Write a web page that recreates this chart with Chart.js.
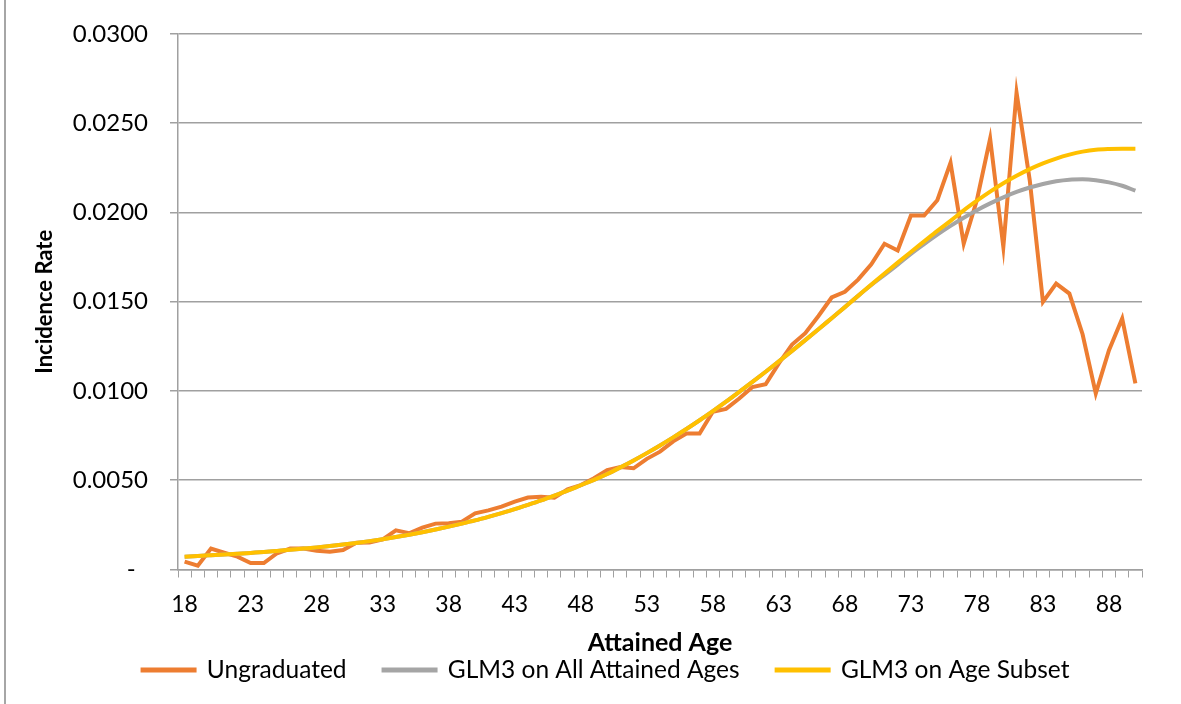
<!DOCTYPE html>
<html>
<head>
<meta charset="utf-8">
<script src="https://cdn.jsdelivr.net/npm/chart.js@4"></script>
<style>
  html, body { margin: 0; padding: 0; background: #fff; }
  #wrap { position: relative; width: 1181px; height: 704px; }
  #edge { position: absolute; left: 4px; top: 0; width: 2px; height: 704px; background: #a6a6a6; }
</style>
</head>
<body>
<div id="wrap">
  <canvas id="incidenceChart" width="1181" height="704"></canvas>
  <div id="edge"></div>
</div>
<script>
const ages = [18, 19, 20, 21, 22, 23, 24, 25, 26, 27, 28, 29, 30, 31, 32, 33, 34, 35, 36, 37,
  38, 39, 40, 41, 42, 43, 44, 45, 46, 47, 48, 49, 50, 51, 52, 53, 54, 55, 56, 57,
  58, 59, 60, 61, 62, 63, 64, 65, 66, 67, 68, 69, 70, 71, 72, 73, 74, 75, 76, 77,
  78, 79, 80, 81, 82, 83, 84, 85, 86, 87, 88, 89, 90];

const ungraduated = [0.00044, 0.00021, 0.00117, 0.00094, 0.00072, 0.00036, 0.00036, 0.00091, 0.00117, 0.00118,
  0.00105, 0.00100, 0.00109, 0.00150, 0.00151, 0.00169, 0.00219, 0.00203, 0.00235, 0.00257,
  0.00259, 0.00268, 0.00315, 0.00331, 0.00352, 0.00380, 0.00403, 0.00408, 0.00402, 0.00449,
  0.00473, 0.00511, 0.00557, 0.00574, 0.00567, 0.00620, 0.00660, 0.00718, 0.00762, 0.00762,
  0.00884, 0.00900, 0.00958, 0.01022, 0.01038, 0.01155, 0.01260, 0.01324, 0.01420, 0.01524,
  0.01556, 0.01624, 0.01710, 0.01825, 0.01787, 0.01983, 0.01983, 0.02069, 0.02278, 0.01826,
  0.02070, 0.02414, 0.01807, 0.02672, 0.02180, 0.01499, 0.01602, 0.01546, 0.01318, 0.00987,
  0.01229, 0.01406, 0.01043];

const glmAllAges = [0.00072, 0.00076, 0.00080, 0.00084, 0.00088, 0.00093, 0.00098, 0.00104, 0.00110, 0.00117,
  0.00124, 0.00132, 0.00140, 0.00149, 0.00159, 0.00170, 0.00182, 0.00195, 0.00209, 0.00224,
  0.00240, 0.00257, 0.00275, 0.00295, 0.00316, 0.00338, 0.00362, 0.00387, 0.00414, 0.00442,
  0.00472, 0.00502, 0.00535, 0.00572, 0.00611, 0.00652, 0.00695, 0.00740, 0.00787, 0.00836,
  0.00887, 0.00940, 0.00995, 0.01051, 0.01108, 0.01166, 0.01225, 0.01285, 0.01346, 0.01408,
  0.01470, 0.01533, 0.01594, 0.01650, 0.01708, 0.01768, 0.01823, 0.01876, 0.01925, 0.01971,
  0.02013, 0.02051, 0.02085, 0.02115, 0.02140, 0.02160, 0.02175, 0.02184, 0.02186, 0.02181,
  0.02169, 0.02150, 0.02122];

const glmSubset = [0.00072, 0.00076, 0.00080, 0.00084, 0.00088, 0.00093, 0.00098, 0.00104, 0.00110, 0.00117,
  0.00124, 0.00132, 0.00140, 0.00149, 0.00159, 0.00170, 0.00182, 0.00195, 0.00209, 0.00224,
  0.00240, 0.00257, 0.00275, 0.00295, 0.00316, 0.00338, 0.00362, 0.00387, 0.00414, 0.00442,
  0.00472, 0.00502, 0.00535, 0.00572, 0.00611, 0.00652, 0.00695, 0.00740, 0.00787, 0.00836,
  0.00887, 0.00940, 0.00995, 0.01051, 0.01108, 0.01166, 0.01225, 0.01285, 0.01346, 0.01408,
  0.01470, 0.01533, 0.01596, 0.01658, 0.01719, 0.01779, 0.01838, 0.01897, 0.01953, 0.02012,
  0.02066, 0.02117, 0.02164, 0.02206, 0.02243, 0.02275, 0.02302, 0.02324, 0.02341, 0.02352,
  0.02356, 0.02357, 0.02357];

const yTicks = [0, 0.005, 0.01, 0.015, 0.02, 0.025, 0.03];

// nudges the legend box so its row sits where the original one does
const legendNudge = {
  id: "legendNudge",
  afterLayout(chart) {
    const lg = chart.legend;
    if (!lg) return;
    lg.left += 35;
    lg.right += 35;
    lg.top -= 11.75;
    lg.bottom -= 11.75;
  },
};

document.addEventListener("DOMContentLoaded", function () {
  const ctx = document.getElementById("incidenceChart");
  const axisGrey = "#a0a0a0";
  const font = "Lato";

  new Chart(ctx.getContext("2d"), {
    type: "line",
    data: {
      labels: ages,
      datasets: [
        {
          label: "Ungraduated",
          data: ungraduated,
          borderColor: "#ed7d31",
          backgroundColor: "#ed7d31",
          borderWidth: 4,
          pointRadius: 0,
          tension: 0,
          order: 3,
        },
        {
          label: "GLM3 on All Attained Ages",
          data: glmAllAges,
          borderColor: "#a5a5a5",
          backgroundColor: "#a5a5a5",
          borderWidth: 4,
          pointRadius: 0,
          cubicInterpolationMode: "monotone",
          order: 2,
        },
        {
          label: "GLM3 on Age Subset",
          data: glmSubset,
          borderColor: "#ffc000",
          backgroundColor: "#ffc000",
          borderWidth: 4,
          pointRadius: 0,
          cubicInterpolationMode: "monotone",
          order: 1,
        },
      ],
    },
    plugins: [legendNudge],
    options: {
      responsive: false,
      animation: false,
      layout: { padding: { top: 34, right: 39, bottom: 0, left: 0 } },
      plugins: {
        legend: {
          display: true,
          position: "bottom",
          labels: {
            boxWidth: 52,
            boxHeight: 1,
            padding: 37,
            color: "#000",
            font: { family: font, size: 24.5 },
            sort: (a, b) => a.datasetIndex - b.datasetIndex,
          },
        },
        tooltip: { enabled: false },
      },
      scales: {
        x: {
          type: "category",
          offset: true,
          afterFit: (scale) => { scale.height = 63; },
          grid: {
            offset: true,
            drawOnChartArea: false,
            drawTicks: true,
            tickLength: 8,
            color: axisGrey,
            tickColor: axisGrey,
          },
          border: { display: true, color: axisGrey, width: 1.5 },
          ticks: {
            autoSkip: false,
            maxRotation: 0,
            padding: 13,
            color: "#000",
            font: { family: font, size: 23 },
            callback: function (value, index) {
              return index % 5 === 0 ? String(ages[index]) : "";
            },
          },
          title: {
            display: true,
            text: "Attained Age",
            color: "#000",
            font: { family: font, size: 25, weight: "bold" },
            padding: { top: 0, bottom: -25.5 },
          },
        },
        y: {
          min: 0,
          max: 0.03,
          afterFit: (scale) => { scale.width = 178; },
          afterBuildTicks: (scale) => {
            scale.ticks = yTicks.map((v) => ({ value: v }));
          },
          grid: {
            color: axisGrey,
            tickColor: axisGrey,
            lineWidth: 1.5,
            tickLength: 8,
          },
          border: { display: true, color: axisGrey, width: 1.5 },
          ticks: {
            padding: 22,
            color: "#000",
            font: { family: font, size: 24, lineHeight: 1 },
            callback: function (value) {
              return value === 0 ? "-  " : value.toFixed(4);
            },
          },
          title: {
            display: true,
            text: "Incidence Rate",
            color: "#000",
            font: { family: font, size: 22, weight: "bold" },
            padding: { top: 32, bottom: 0 },
          },
        },
      },
    },
  });
});
</script>
</body>
</html>
